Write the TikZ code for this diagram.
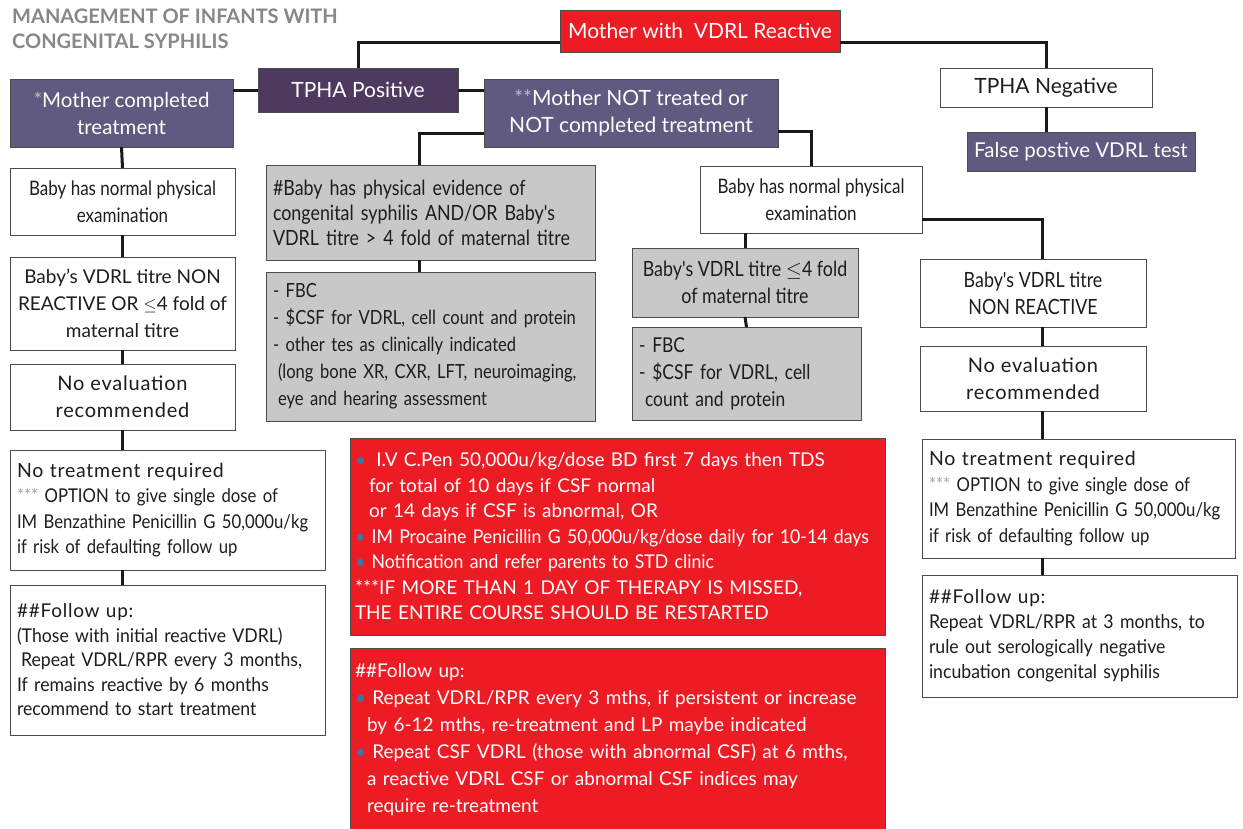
\documentclass[tikz,border=0pt]{standalone}
\usepackage{fontspec}
\setmainfont{Lato}
\newfontfamily\cnd{Lato}[FakeStretch=0.85]
\newfontfamily\ncn{Lato}[FakeStretch=0.88]
\newfontfamily\mcn{Lato}[FakeStretch=0.93]
\newfontfamily\wid{Lato}[LetterSpace=4]
\usetikzlibrary{calc}
\definecolor{rd}{RGB}{237,28,36}
\definecolor{dpurp}{RGB}{79,58,95}
\definecolor{slate}{RGB}{96,90,128}
\definecolor{gryf}{RGB}{200,200,200}
\definecolor{ttl}{RGB}{135,135,135}
\definecolor{bul}{RGB}{58,118,170}
\definecolor{astc}{RGB}{190,185,210}
\definecolor{astg}{RGB}{165,165,165}
\definecolor{txt}{RGB}{30,28,28}
\definecolor{lnc}{RGB}{25,25,25}
\newcommand\fs[2]{\fontsize{#1}{#2}\selectfont}
\newcommand\bul{\textcolor{bul}{\textbullet}\ }
\newcommand\mybox[7]{\node[#6, anchor=north west, minimum width={(#4-#2)*1pt}, minimum height={(#5-#3)*1pt}] (#1) at (#2,#3) {#7};}
\tikzset{
  bx/.style={draw=black!70, line width=0.8pt, inner sep=0pt, outer sep=0pt, align=center, text=txt},
  wbox/.style={bx, fill=white},
  gbox/.style={bx, fill=gryf},
  pbox/.style={bx, fill=slate, text=white},
  dpbox/.style={bx, fill=dpurp, text=white},
  rbox/.style={bx, fill=rd, text=white},
  conn/.style={line width=3pt, draw=lnc},
}
\begin{document}
\begin{tikzpicture}[x=1pt,y=-1pt]
\clip (0,0) rectangle (1243,828);
\fill[white] (0,0) rectangle (1243,828);

\node[anchor=north west, align=left, font=\bfseries\fs{20}{25}, text=ttl, inner sep=0pt] (title) at (12,9) {MANAGEMENT OF INFANTS WITH\\CONGENITAL SYPHILIS};

\mybox{top}{560}{10}{840}{52}{rbox,font=\fs{21}{24}}{Mother with \ VDRL Reactive}
\mybox{tphap}{258}{68}{458}{112}{dpbox,font=\fs{21}{24}}{TPHA Positive}
\mybox{motherc}{10}{79}{233}{147}{pbox,font=\fs{20.5}{27}}{\textcolor{astc}{*}Mother completed\\treatment}
\mybox{mothern}{484}{79}{778}{147}{pbox,font=\fs{21}{27}}{\textcolor{astc}{**}Mother NOT treated or\\NOT completed treatment}
\mybox{tphan}{940}{68}{1152}{107}{wbox,font=\fs{21}{24}}{TPHA Negative}
\mybox{falsep}{967}{132}{1195}{171}{pbox,font=\fs{20.5}{24}}{False postive VDRL test}

\mybox{l1}{10}{168}{235}{235}{wbox,font=\cnd\fs{20}{27}}{Baby has normal physical\\examination}
\mybox{l2}{10}{257}{235}{350}{wbox,font=\fs{19}{27}}{Baby's VDRL titre NON\\REACTIVE OR $\leq$4 fold of\\maternal titre}
\mybox{l3}{10}{364}{235}{430}{wbox,font=\wid\fs{20}{27}}{No evaluation\\recommended}
\mybox{l4}{10}{450}{325}{570}{wbox,align=left,text width=301pt,font=\ncn\fs{19}{25.5}}{{\wid\fs{19.5}{25.5}No treatment required}\\\textcolor{astg}{***} OPTION to give single dose of\\IM Benzathine Penicillin G 50,000u/kg\\if risk of defaulting follow up}
\mybox{l5}{10}{585}{325}{735}{wbox,align=left,text width=301pt,font=\mcn\fs{19}{24.5}}{{\wid\#\#Follow up:}\\(Those with initial reactive VDRL)\\\hspace*{4pt}Repeat VDRL/RPR every 3 months,\\If remains reactive by 6 months\\recommend to start treatment}

\mybox{g1}{266}{165}{595}{260}{gbox,align=left,text width=315pt,font=\cnd\fs{21}{25}}{\#Baby has physical evidence of\\congenital syphilis AND/OR Baby's\\VDRL titre > 4 fold of maternal titre}
\mybox{g2}{266}{272}{595}{421}{gbox,align=left,text width=315pt,font=\cnd\fs{19.5}{27}}{- FBC\\- \$CSF for VDRL, cell count and protein\\- other tes as clinically indicated\\\hspace*{5pt}(long bone XR, CXR, LFT, neuroimaging,\\\hspace*{5pt}eye and hearing assessment}

\mybox{m1}{700}{166}{922}{233}{wbox,font=\cnd\fs{20}{27}}{Baby has normal physical\\examination}
\mybox{g3}{632}{248}{858}{317}{gbox,font=\cnd\fs{21}{27}}{Baby's VDRL titre $\leq$4 fold\\of maternal titre}
\mybox{g4}{632}{327}{861}{420}{gbox,align=left,text width=215pt,font=\cnd\fs{20.5}{27}}{- FBC\\- \$CSF for VDRL, cell\\\hspace*{6pt}count and protein}
\mybox{r1}{920}{259}{1146}{327}{wbox,font=\cnd\fs{21}{27}}{Baby's VDRL titre\\NON REACTIVE}
\mybox{r2}{920}{346}{1146}{411}{wbox,font=\wid\fs{20}{27}}{No evaluation\\recommended}
\mybox{r3}{922}{439}{1235}{558}{wbox,align=left,text width=299pt,font=\ncn\fs{19}{25.5}}{{\wid\fs{19.5}{25.5}No treatment required}\\\textcolor{astg}{***} OPTION to give single dose of\\IM Benzathine Penicillin G 50,000u/kg\\if risk of defaulting follow up}
\mybox{r4}{922}{575}{1237}{697}{wbox,align=left,text width=301pt,font=\mcn\fs{19}{25}}{{\wid\#\#Follow up:}\\Repeat VDRL/RPR at 3 months, to\\rule out serologically negative\\incubation congenital syphilis}

\mybox{red1}{350}{438}{885}{635}{rbox,align=left,text width=525pt,font=\fs{19}{25.5}}{\bul\hspace{4pt}I.V C.Pen 50,000u/kg/dose BD first 7 days then TDS\\\hspace*{14pt}for total of 10 days if CSF normal\\\hspace*{14pt}or 14 days if CSF is abnormal, OR\\{\mcn\bul IM Procaine Penicillin G 50,000u/kg/dose daily for 10-14 days}\\{\mcn\bul Notification and refer parents to STD clinic}\\{}***IF MORE THAN 1 DAY OF THERAPY IS MISSED,\\THE ENTIRE COURSE SHOULD BE RESTARTED}
\mybox{red2}{350}{648}{885}{832}{rbox,align=left,text width=525pt,font=\fs{19}{27}}{\#\#Follow up:\\\bul Repeat VDRL/RPR every 3 mths, if persistent or increase\\\hspace*{12pt}by 6-12 mths, re-treatment and LP maybe indicated\\\bul Repeat CSF VDRL (those with abnormal CSF) at 6 mths,\\\hspace*{12pt}a reactive VDRL CSF or abnormal CSF indices may\\\hspace*{12pt}require re-treatment}

\coordinate (rx) at (1042,0);
\draw[conn] ($(top.west)+(0,11)$) -| (tphap.north);
\draw[conn] ($(top.east)+(0,11)$) -| (tphan.north);
\draw[conn] (tphan.south) -- (tphan.south |- falsep.north);
\draw[conn] (tphap.west) -- (tphap.west -| motherc.east);
\draw[conn] (tphap.east) -- (tphap.east -| mothern.west);
\draw[conn] (motherc.south) -- (l1.north);
\draw[conn] (l1.south) -- (l2.north);
\draw[conn] (l2.south) -- (l3.north);
\draw[conn] (l3.south) -- (l3.south |- l4.north);
\draw[conn] (l3.south |- l4.south) -- (l3.south |- l5.north);
\draw[conn] ($(mothern.west)+(0,20)$) -| ($(g1.north)+(-11,0)$);
\draw[conn] ($(g1.south)+(-11,0)$) -- ($(g2.north)+(-11,0)$);
\draw[conn] ($(mothern.east)+(0,18)$) -| (m1.north);
\draw[conn] (g3.north |- m1.south) -- (g3.north);
\draw[conn] (g3.south) -- (g4.north);
\draw[conn] ($(m1.east)+(0,20)$) -| (rx |- r1.north);
\draw[conn] (rx |- r1.south) -- (rx |- r2.north);
\draw[conn] (rx |- r2.south) -- (rx |- r3.north);
\draw[conn] (rx |- r3.south) -- (rx |- r4.north);
\end{tikzpicture}
\end{document}
